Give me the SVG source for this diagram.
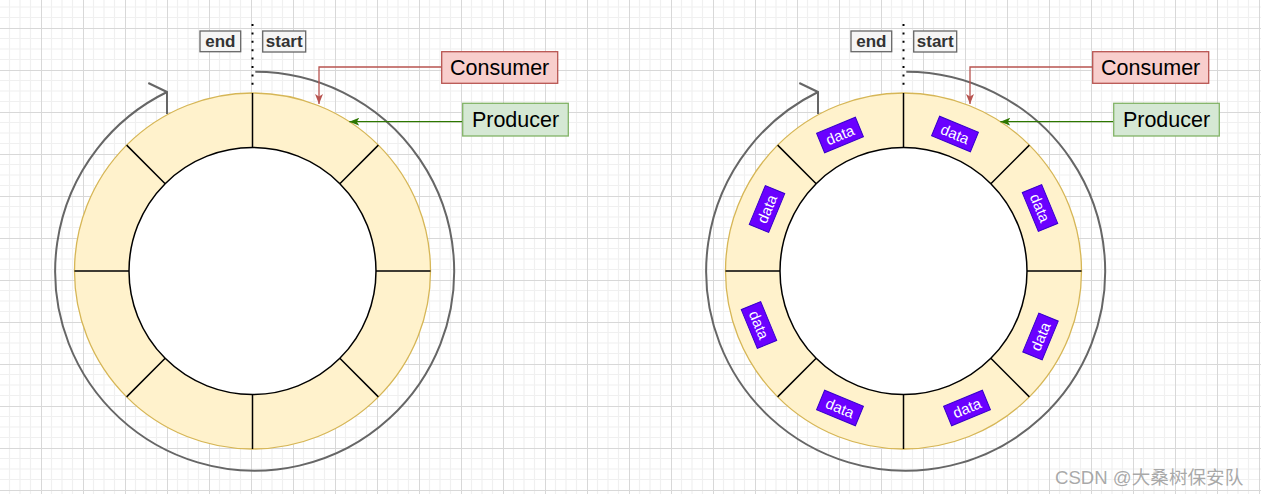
<svg xmlns="http://www.w3.org/2000/svg" width="1261" height="494" viewBox="0 0 1261 494">
<defs>
<pattern id="grid" x="-1" y="-14" width="42" height="42" patternUnits="userSpaceOnUse">
<path d="M10.5 0V42M21 0V42M31.5 0V42M0 10.5H42M0 21H42M0 31.5H42" stroke="#f0f0f0" stroke-width="1.2" fill="none"/>
<path d="M0.5 0V42M0 0.5H42" stroke="#d8d8d8" stroke-width="1" fill="none"/>
</pattern>
<marker id="arrRed" viewBox="0 0 10 8" refX="10" refY="4" markerWidth="10" markerHeight="8" markerUnits="userSpaceOnUse" orient="auto">
<path d="M0,0 L10,4 L0,8 L2.5,4 z" fill="#b85450"/>
</marker>
<marker id="arrGreen" viewBox="0 0 10 8" refX="10" refY="4" markerWidth="10" markerHeight="8" markerUnits="userSpaceOnUse" orient="auto">
<path d="M0,0 L10,4 L0,8 L2.5,4 z" fill="#2d7600"/>
</marker>
</defs>
<style>
.outer{fill:#fff2cc;stroke:#d6b656;stroke-width:1.3}
.inner{fill:#ffffff;stroke:#000000;stroke-width:1.5}
.seg{stroke:#000000;stroke-width:1.5;fill:none}
.lbl{fill:#f5f5f5;stroke:#666666;stroke-width:1.3}
.lbltxt{font-family:"Liberation Sans",Arial,sans-serif;font-size:17px;font-weight:bold;fill:#333333;text-anchor:middle}
.cons{fill:#f8cecc;stroke:#b85450;stroke-width:1.3}
.prod{fill:#d5e8d4;stroke:#82b366;stroke-width:1.3}
.boxtxt{font-family:"Liberation Sans",Arial,sans-serif;font-size:21.5px;fill:#000000;text-anchor:middle}
.data rect{fill:#6a00ff;stroke:#3700cc;stroke-width:1}
.data text{font-family:"Liberation Sans",Arial,sans-serif;font-size:15px;fill:#ffffff;text-anchor:middle}
.arc{fill:none;stroke:#666666;stroke-width:2}
.dot{fill:none;stroke:#000000;stroke-width:2;stroke-dasharray:2 6.4}
.cline{fill:none;stroke:#b85450;stroke-width:1.3}
.pline{fill:none;stroke:#2d7600;stroke-width:1.3}
.wm{font-family:"Liberation Sans","Noto Sans CJK SC",sans-serif;font-size:18.6px;fill:#9a9a9a;fill-opacity:0.85}
</style>
<rect x="0" y="0" width="1261" height="494" fill="#ffffff"/>
<rect x="0" y="0" width="1261" height="494" fill="url(#grid)"/>

<g id="ring-left" transform="translate(252.5,271)">
<circle class="outer" cx="0" cy="0" r="178"/>
<circle class="inner" cx="0" cy="0" r="123.5"/>
<path class="seg" d="M0,-123.5L0,-178M87.33,-87.33L125.87,-125.87M123.5,0L178,0M87.33,87.33L125.87,125.87M0,123.5L0,178M-87.33,87.33L-125.87,125.87M-123.5,0L-178,0M-87.33,-87.33L-125.87,-125.87"/>
</g>

<g id="ring-right" transform="translate(903.5,271)">
<circle class="outer" cx="0" cy="0" r="178"/>
<circle class="inner" cx="0" cy="0" r="123.5"/>
<path class="seg" d="M0,-123.5L0,-178M87.33,-87.33L125.87,-125.87M123.5,0L178,0M87.33,87.33L125.87,125.87M0,123.5L0,178M-87.33,87.33L-125.87,125.87M-123.5,0L-178,0M-87.33,-87.33L-125.87,-125.87"/>
</g>

<g id="data-1" class="data" transform="translate(840,135) rotate(-22.5)"><rect x="-21" y="-10.5" width="42" height="21"/><text x="0" y="5.3">data</text></g>
<g id="data-2" class="data" transform="translate(955,134) rotate(22.5)"><rect x="-21" y="-10.5" width="42" height="21"/><text x="0" y="5.3">data</text></g>
<g id="data-3" class="data" transform="translate(1040,208) rotate(67.5)"><rect x="-21" y="-10.5" width="42" height="21"/><text x="0" y="5.3">data</text></g>
<g id="data-4" class="data" transform="translate(1040.5,336.5) rotate(-67.5)"><rect x="-21" y="-10.5" width="42" height="21"/><text x="0" y="5.3">data</text></g>
<g id="data-5" class="data" transform="translate(967,408) rotate(-22.5)"><rect x="-21" y="-10.5" width="42" height="21"/><text x="0" y="5.3">data</text></g>
<g id="data-6" class="data" transform="translate(840,408) rotate(22.5)"><rect x="-21" y="-10.5" width="42" height="21"/><text x="0" y="5.3">data</text></g>
<g id="data-7" class="data" transform="translate(759,325) rotate(67.5)"><rect x="-21" y="-10.5" width="42" height="21"/><text x="0" y="5.3">data</text></g>
<g id="data-8" class="data" transform="translate(767,209) rotate(-67.5)"><rect x="-21" y="-10.5" width="42" height="21"/><text x="0" y="5.3">data</text></g>

<g id="connectors">
<line class="dot" x1="252.5" y1="24" x2="252.5" y2="90"/>
<path class="arc" d="M255.3,71.7 A199.5,199.5 0 1 1 167,92"/>
<polyline class="arc" points="148.3,83 167,92 167,114"/>
<path class="cline" d="M441.7,67H319V104" marker-end="url(#arrRed)"/>
<path class="pline" d="M462.7,121.7H349.3" marker-end="url(#arrGreen)"/>

<line class="dot" x1="903.5" y1="24" x2="903.5" y2="90"/>
<path class="arc" d="M906.3,71.7 A199.5,199.5 0 1 1 818,92"/>
<polyline class="arc" points="799.3,83 818,92 818,114"/>
<path class="cline" d="M1092.7,67H970V104" marker-end="url(#arrRed)"/>
<path class="pline" d="M1113.7,121.7H1000.3" marker-end="url(#arrGreen)"/>
</g>

<g id="end-left"><rect class="lbl" x="200" y="31" width="40.7" height="20.7"/><text class="lbltxt" x="220.3" y="47.3">end</text></g>
<g id="start-left"><rect class="lbl" x="262.7" y="31" width="43" height="21"/><text class="lbltxt" x="284.2" y="47.3">start</text></g>
<g id="consumer-left"><rect class="cons" x="441.7" y="51.7" width="116" height="31.6"/><text class="boxtxt" x="499.7" y="75">Consumer</text></g>
<g id="producer-left"><rect class="prod" x="462.7" y="103.3" width="105.6" height="32.7"/><text class="boxtxt" x="515.5" y="127.3">Producer</text></g>

<g id="end-right"><rect class="lbl" x="851" y="31" width="40.7" height="20.7"/><text class="lbltxt" x="871.3" y="47.3">end</text></g>
<g id="start-right"><rect class="lbl" x="913.7" y="31" width="43" height="21"/><text class="lbltxt" x="935.2" y="47.3">start</text></g>
<g id="consumer-right"><rect class="cons" x="1092.7" y="51.7" width="116" height="31.6"/><text class="boxtxt" x="1150.7" y="75">Consumer</text></g>
<g id="producer-right"><rect class="prod" x="1113.7" y="103.3" width="105.6" height="32.7"/><text class="boxtxt" x="1166.5" y="127.3">Producer</text></g>

<text class="wm" x="1055" y="483.5">CSDN @大桑树保安队</text>
</svg>
